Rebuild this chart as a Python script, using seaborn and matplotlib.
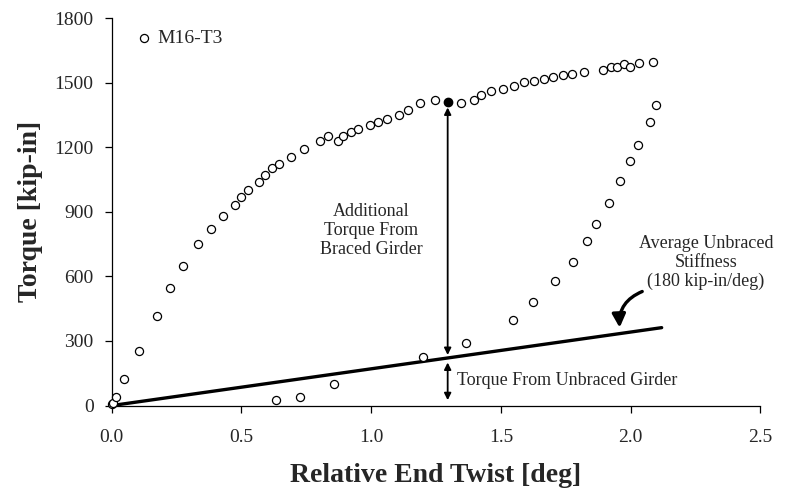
import numpy as np
import matplotlib
matplotlib.use("Agg")
import matplotlib.pyplot as plt
import seaborn as sns
import pandas as pd
from matplotlib.patches import FancyArrowPatch

# Test M16-T3: relative end twist [deg] vs torque [kip-in]
twist = [0.000, 0.003, 0.017, 0.049, 0.104, 0.174, 0.225, 0.274, 0.331, 0.381,
         0.428, 0.477, 0.500, 0.524, 0.567, 0.591, 0.617, 0.644, 0.690, 0.741,
         0.803, 0.832, 0.872, 0.893, 0.922, 0.948, 0.997, 1.028, 1.063, 1.108,
         1.142, 1.189, 1.246, 1.346, 1.395, 1.424, 1.462, 1.510, 1.549, 1.589,
         1.626, 1.668, 1.702, 1.739, 1.774, 1.821, 1.894, 1.923, 1.948, 1.974,
         1.998, 2.032, 2.086,
         2.100, 2.074, 2.029, 1.998, 1.960, 1.918, 1.868, 1.832, 1.779, 1.707,
         1.625, 1.545, 1.367, 1.199, 0.857, 0.725, 0.635]
torque = [5, 10, 41, 122, 253, 415, 545, 647, 749, 821,
          879, 933, 971, 1000, 1041, 1072, 1102, 1124, 1155, 1191,
          1231, 1251, 1229, 1251, 1273, 1285, 1304, 1319, 1332, 1351,
          1371, 1404, 1420, 1407, 1422, 1443, 1463, 1472, 1484, 1504,
          1509, 1517, 1528, 1537, 1540, 1551, 1559, 1571, 1574, 1585,
          1574, 1591, 1596,
          1398, 1319, 1209, 1137, 1042, 943, 845, 766, 669, 577,
          479, 397, 289, 224, 98, 41, 26]

# highlighted point (braced girder torque at the reference twist)
peak_twist = 1.295
peak_torque = 1410

# average unbraced stiffness line
stiff_x = [0.0, 2.12]
stiff_y = [0.0, 362.0]

df = pd.DataFrame({"twist": twist, "torque": torque})

sns.set_theme(style="ticks")
plt.rcParams["font.family"] = ["Liberation Serif", "DejaVu Serif"]

fig = plt.figure(figsize=(7.87, 4.91), dpi=100)
ax = fig.add_axes([0.142, 0.174, 0.824, 0.789])

sns.scatterplot(data=df, x="twist", y="torque", ax=ax, marker="o", s=34,
                facecolor="white", edgecolor="black", linewidth=0.9,
                label="M16-T3", zorder=3, clip_on=False)
ax.scatter([peak_twist], [peak_torque], s=36, color="black", zorder=4)
sns.lineplot(x=stiff_x, y=stiff_y, ax=ax, color="black", linewidth=2.4, zorder=2)

# vertical arrows
ax.annotate("", xy=(peak_twist, 1385), xytext=(peak_twist, 235),
            arrowprops=dict(arrowstyle="<|-|>", color="black", lw=1.3,
                            mutation_scale=10, shrinkA=0, shrinkB=0))
ax.annotate("", xy=(peak_twist, 200), xytext=(peak_twist, 25),
            arrowprops=dict(arrowstyle="<|-|>", color="black", lw=1.3,
                            mutation_scale=10, shrinkA=0, shrinkB=0))

ax.text(1.0, 815, "Additional\nTorque From\nBraced Girder", ha="center",
        va="center", fontsize=13, linespacing=1.15)
ax.text(1.33, 118, "Torque From Unbraced Girder", ha="left", va="center",
        fontsize=13)
ax.text(2.29, 665, "Average Unbraced\nStiffness\n(180 kip-in/deg)",
        ha="center", va="center", fontsize=13, linespacing=1.15)

curve = FancyArrowPatch((2.045, 530), (1.958, 362),
                        connectionstyle="arc3,rad=0.35",
                        arrowstyle="-|>", mutation_scale=20,
                        color="black", lw=2.4, shrinkA=0, shrinkB=0)
ax.add_patch(curve)

ax.set_xlim(0, 2.5)
ax.set_ylim(0, 1800)
ax.set_xticks(np.arange(0, 2.51, 0.5))
ax.set_yticks(np.arange(0, 1801, 300))
ax.set_xticklabels([f"{v:.1f}" for v in np.arange(0, 2.51, 0.5)])
ax.tick_params(axis="both", labelsize=14, direction="out", length=5,
               width=0.9, color="black", pad=8)
ax.tick_params(axis="x", pad=12)
for s in ["left", "bottom"]:
    ax.spines[s].set_color("black")
    ax.spines[s].set_linewidth(0.9)
sns.despine(ax=ax)

ax.set_xlabel("Relative End Twist [deg]", fontsize=20, fontweight="bold",
              labelpad=12)
ax.set_ylabel("Torque [kip-in]", fontsize=20, fontweight="bold", labelpad=8)

ax.legend(loc="upper left", frameon=False, fontsize=14, handlelength=0.8,
          handletextpad=0.3, borderaxespad=0.2, bbox_to_anchor=(0.02, 1.0))

fig.savefig("out.png", dpi=100)
